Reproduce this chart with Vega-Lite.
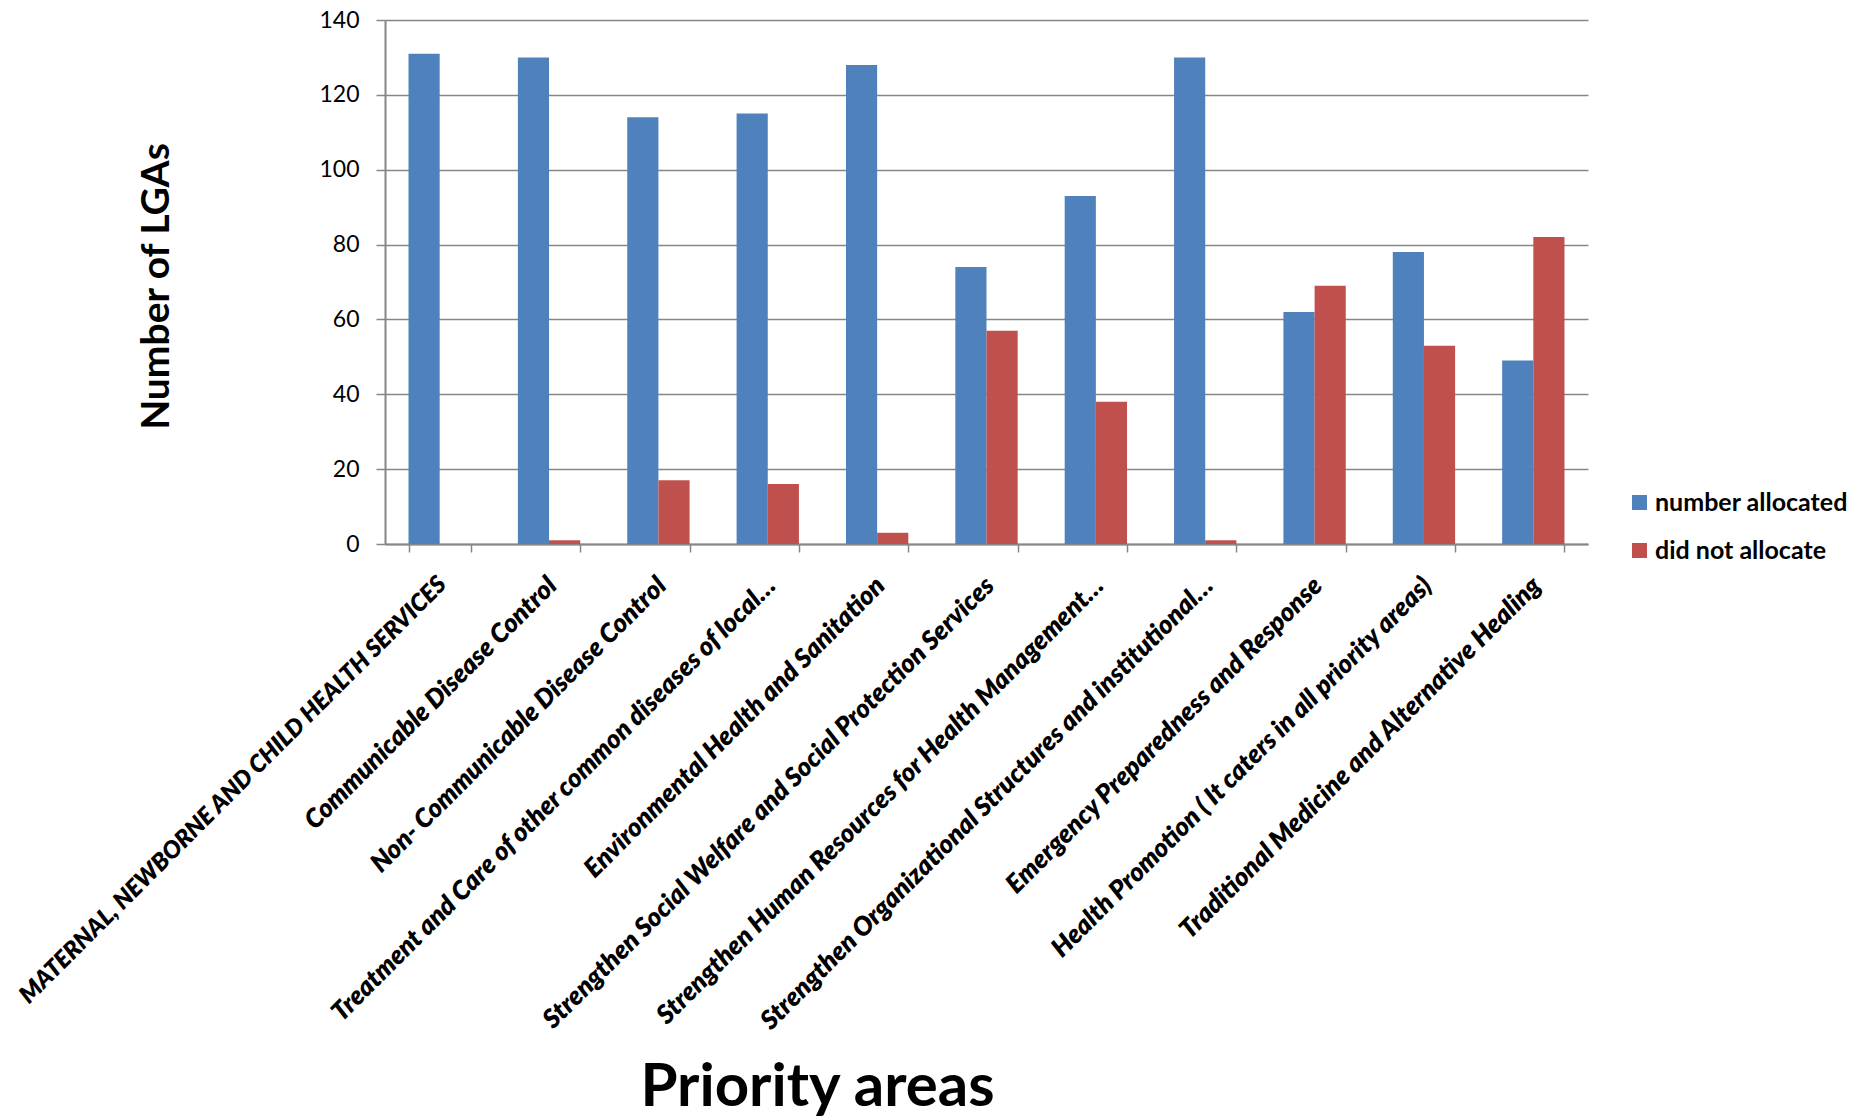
{
  "$schema": "https://vega.github.io/schema/vega-lite/v6.json",
  "width": 1203,
  "height": 524,
  "autosize": {"type": "none"},
  "padding": {"left": 385, "top": 20, "right": 262, "bottom": 575},
  "background": "white",
  "data": {
    "values": [
      {"area": "MATERNAL, NEWBORNE AND CHILD HEALTH SERVICES", "series": "number allocated", "lgas": 131},
      {"area": "MATERNAL, NEWBORNE AND CHILD HEALTH SERVICES", "series": "did not allocate", "lgas": 0},
      {"area": "Communicable Disease Control", "series": "number allocated", "lgas": 130},
      {"area": "Communicable Disease Control", "series": "did not allocate", "lgas": 1},
      {"area": "Non- Communicable Disease Control", "series": "number allocated", "lgas": 114},
      {"area": "Non- Communicable Disease Control", "series": "did not allocate", "lgas": 17},
      {"area": "Treatment  and Care of other common diseases of local…", "series": "number allocated", "lgas": 115},
      {"area": "Treatment  and Care of other common diseases of local…", "series": "did not allocate", "lgas": 16},
      {"area": "Environmental Health and Sanitation", "series": "number allocated", "lgas": 128},
      {"area": "Environmental Health and Sanitation", "series": "did not allocate", "lgas": 3},
      {"area": "Strengthen Social Welfare and Social Protection Services", "series": "number allocated", "lgas": 74},
      {"area": "Strengthen Social Welfare and Social Protection Services", "series": "did not allocate", "lgas": 57},
      {"area": "Strengthen Human Resources for Health Management…", "series": "number allocated", "lgas": 93},
      {"area": "Strengthen Human Resources for Health Management…", "series": "did not allocate", "lgas": 38},
      {"area": "Strengthen Organizational Structures and institutional…", "series": "number allocated", "lgas": 130},
      {"area": "Strengthen Organizational Structures and institutional…", "series": "did not allocate", "lgas": 1},
      {"area": "Emergency Preparedness and Response", "series": "number allocated", "lgas": 62},
      {"area": "Emergency Preparedness and Response", "series": "did not allocate", "lgas": 69},
      {"area": "Health Promotion ( It caters in all priority areas)", "series": "number allocated", "lgas": 78},
      {"area": "Health Promotion ( It caters in all priority areas)", "series": "did not allocate", "lgas": 53},
      {"area": "Traditional Medicine and Alternative Healing", "series": "number allocated", "lgas": 49},
      {"area": "Traditional Medicine and Alternative Healing", "series": "did not allocate", "lgas": 82}
    ]
  },
  "mark": {"type": "bar"},
  "encoding": {
    "x": {
      "field": "area",
      "type": "nominal",
      "sort": null,
      "scale": {"paddingInner": 0.43, "paddingOuter": 0.215},
      "axis": {
        "title": "Priority areas",
        "titleFont": "Lato",
        "titleFontSize": 60,
        "titleFontWeight": "bold",
        "titleColor": "#000000",
        "titleX": 432,
        "titleY": 561,
        "titleAlign": "center",
        "titleBaseline": "alphabetic",
        "labelAngle": -45,
        "labelAlign": "right",
        "labelBaseline": "top",
        "labelFont": "Lato",
        "labelFontSize": {
          "condition": {"test": "datum.value === 'MATERNAL, NEWBORNE AND CHILD HEALTH SERVICES'", "value": 24},
          "value": 26
        },
        "labelFontWeight": 800,
        "labelFontStyle": "italic",
        "labelColor": "#000000",
        "labelLimit": 1000,
        "labelPadding": 20,
        "labelOffset": -6,
        "labelOverlap": false,
        "tickBand": "extent",
        "tickSize": 8,
        "tickColor": "#868686",
        "tickWidth": 1.5,
        "domainColor": "#868686",
        "domainWidth": 2,
        "grid": false
      }
    },
    "xOffset": {
      "field": "series",
      "sort": ["number allocated", "did not allocate"],
      "scale": {"paddingInner": 0, "paddingOuter": 0}
    },
    "y": {
      "field": "lgas",
      "type": "quantitative",
      "scale": {"domain": [0, 140], "nice": false},
      "axis": {
        "title": "Number of LGAs",
        "titleFont": "Lato",
        "titleFontSize": 39,
        "titleFontWeight": "bold",
        "titleColor": "#000000",
        "titleX": -229,
        "titleY": 266,
        "titleAlign": "center",
        "titleBaseline": "middle",
        "values": [0, 20, 40, 60, 80, 100, 120, 140],
        "labelFont": "Lato",
        "labelFontSize": 23,
        "labelColor": "#000000",
        "labelPadding": 17,
        "tickSize": 9,
        "tickColor": "#868686",
        "tickWidth": 1.5,
        "domainColor": "#868686",
        "domainWidth": 2,
        "grid": true,
        "gridColor": "#868686",
        "gridWidth": 1.5
      }
    },
    "color": {
      "field": "series",
      "type": "nominal",
      "scale": {
        "domain": ["number allocated", "did not allocate"],
        "range": ["#4F81BD", "#C0504D"]
      },
      "legend": {
        "title": null,
        "orient": "none",
        "legendX": 1242,
        "legendY": 470,
        "symbolType": "square",
        "symbolSize": 225,
        "symbolStrokeWidth": 0,
        "labelFont": "Lato",
        "labelFontSize": 25,
        "labelFontWeight": "bold",
        "labelColor": "#000000",
        "labelOffset": 3,
        "rowPadding": 22,
        "labelLimit": 400
      }
    }
  },
  "config": {"view": {"stroke": null}}
}
